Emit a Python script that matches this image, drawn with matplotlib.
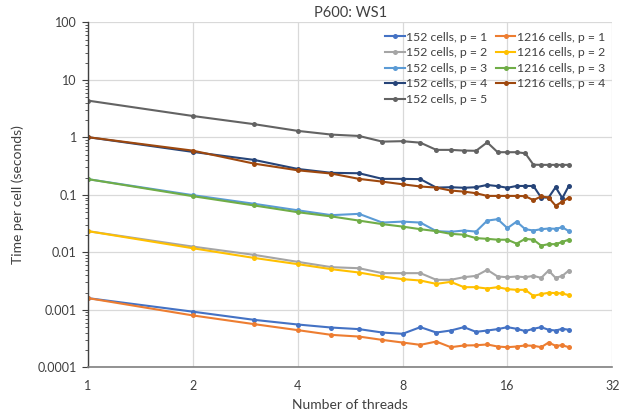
import matplotlib
matplotlib.use("Agg")
import matplotlib.pyplot as plt
from matplotlib.ticker import FixedLocator, FixedFormatter, LogLocator, NullFormatter, NullLocator

plt.rcParams['font.family'] = ['Lato', 'DejaVu Sans']

threads = list(range(1, 25))

c152_p1 = [0.0016, 0.00093, 0.00067, 0.000556, 0.000492, 0.000462, 0.000403, 0.000383,
           0.0005, 0.000403, 0.000437, 0.0005, 0.000414, 0.000437, 0.000462, 0.0005,
           0.000468, 0.000427, 0.000468, 0.0005, 0.00045, 0.000437, 0.000468, 0.00045]
c1216_p1 = [0.0016, 0.00080, 0.000564, 0.000444, 0.000367, 0.000343, 0.0003, 0.00027,
            0.000246, 0.000281, 0.000224, 0.00024, 0.000242, 0.00025, 0.00023, 0.000224,
            0.00023, 0.00024, 0.000237, 0.000224, 0.00027, 0.000237, 0.000242, 0.000224]
c152_p2 = [0.0234, 0.0126, 0.00905, 0.00684, 0.00553, 0.0053, 0.00435, 0.00435,
           0.00435, 0.00333, 0.00333, 0.0037, 0.0039, 0.00497, 0.0038, 0.0037,
           0.0038, 0.0037, 0.0039, 0.0036, 0.00483, 0.0036, 0.0039, 0.00483]
c1216_p2 = [0.0234, 0.0118, 0.0080, 0.00624, 0.0051, 0.00446, 0.0038, 0.00342,
            0.00324, 0.00283, 0.00307, 0.00248, 0.00248, 0.00235, 0.00248, 0.00229,
            0.00223, 0.00223, 0.00175, 0.00188, 0.00198, 0.00196, 0.00193, 0.0018]
c152_p3 = [0.188, 0.099, 0.070, 0.054, 0.0444, 0.0468, 0.033, 0.0343,
           0.033, 0.0234, 0.0228, 0.024, 0.023, 0.0357, 0.0378, 0.0264,
           0.0343, 0.0253, 0.024, 0.0253, 0.026, 0.0257, 0.0274, 0.0234]
c1216_p3 = [0.188, 0.095, 0.0655, 0.050, 0.0422, 0.0357, 0.031, 0.0281,
            0.0253, 0.0234, 0.021, 0.0203, 0.0177, 0.0172, 0.0166, 0.0166,
            0.0142, 0.0172, 0.0166, 0.0131, 0.0139, 0.0139, 0.0152, 0.0166]
c152_p4 = [1.01, 0.56, 0.406, 0.283, 0.242, 0.238, 0.19, 0.19,
           0.188, 0.134, 0.136, 0.133, 0.136, 0.149, 0.142, 0.133,
           0.143, 0.143, 0.143, 0.0898, 0.09, 0.136, 0.088, 0.143]
c1216_p4 = [1.01, 0.589, 0.35, 0.268, 0.235, 0.19, 0.17, 0.153,
            0.14, 0.134, 0.119, 0.114, 0.107, 0.096, 0.096, 0.096,
            0.096, 0.095, 0.081, 0.094, 0.09, 0.065, 0.076, 0.090]
c152_p5 = [4.37, 2.36, 1.70, 1.30, 1.12, 1.06, 0.845, 0.86,
           0.81, 0.607, 0.607, 0.59, 0.585, 0.82, 0.553, 0.553,
           0.553, 0.53, 0.335, 0.333, 0.333, 0.333, 0.333, 0.333]

series = [
    ("152 cells, p = 1", c152_p1, "#4472C4"),
    ("1216 cells, p = 1", c1216_p1, "#ED7D31"),
    ("152 cells, p = 2", c152_p2, "#A5A5A5"),
    ("1216 cells, p = 2", c1216_p2, "#FFC000"),
    ("152 cells, p = 3", c152_p3, "#5B9BD5"),
    ("1216 cells, p = 3", c1216_p3, "#70AD47"),
    ("152 cells, p = 4", c152_p4, "#264478"),
    ("1216 cells, p = 4", c1216_p4, "#9E480E"),
    ("152 cells, p = 5", c152_p5, "#636363"),
]
legend_order = ["152 cells, p = 1", "152 cells, p = 2", "152 cells, p = 3",
                "152 cells, p = 4", "152 cells, p = 5",
                "1216 cells, p = 1", "1216 cells, p = 2", "1216 cells, p = 3",
                "1216 cells, p = 4"]

x_ticks = [1, 2, 4, 8, 16, 32]
y_ticks = [0.0001, 0.001, 0.01, 0.1, 1, 10, 100]
y_labels = ["0.0001", "0.001", "0.01", "0.1", "1", "10", "100"]

fig = plt.figure(figsize=(6.28, 4.16), dpi=100)
ax = fig.add_axes([0.140, 0.117, 0.835, 0.829])

handles = {}
for name, vals, col in series:
    h, = ax.plot(threads, vals, color=col, lw=1.5, marker='o', ms=3.6,
                 markeredgewidth=0, label=name, solid_joinstyle='round')
    handles[name] = h

ax.set_xscale('log', base=2)
ax.set_yscale('log')
ax.set_xlim(1, 32)
ax.set_ylim(0.0001, 100)

ax.xaxis.set_major_locator(FixedLocator(x_ticks))
ax.xaxis.set_major_formatter(FixedFormatter([str(t) for t in x_ticks]))
ax.xaxis.set_minor_locator(NullLocator())
ax.yaxis.set_major_locator(FixedLocator(y_ticks))
ax.yaxis.set_major_formatter(FixedFormatter(y_labels))
ax.yaxis.set_minor_locator(LogLocator(base=10, subs=range(2, 10), numticks=20))
ax.yaxis.set_minor_formatter(NullFormatter())

ax.grid(True, which='major', color='#D9D9D9', lw=0.9)
ax.set_axisbelow(True)
for s in ('top', 'right'):
    ax.spines[s].set_visible(False)
ax.spines['left'].set_color('#404040')
ax.spines['bottom'].set_color('#7F7F7F')
ax.spines['left'].set_linewidth(1.0)
ax.spines['bottom'].set_linewidth(1.2)

ax.tick_params(axis='x', length=0, pad=9, labelsize=9, labelcolor='#404040')
ax.tick_params(axis='y', which='major', length=4, direction='out', pad=4,
               labelsize=9, labelcolor='#404040', color='#404040')
ax.tick_params(axis='y', which='minor', length=2.5, direction='out', color='#404040')

ax.set_xlabel("Number of threads", fontsize=10, color='#404040', labelpad=5)
ax.set_ylabel("Time per cell (seconds)", fontsize=10, color='#404040', labelpad=10)
ax.set_title("P600: WS1", fontsize=10.5, color='#404040', pad=4)

leg = ax.legend([handles[n] for n in legend_order], legend_order, ncol=2,
                loc='upper right', bbox_to_anchor=(1.0, 0.995), frameon=False,
                fontsize=8.8, handlelength=1.6, handletextpad=0.1,
                columnspacing=0.7, labelspacing=0.38, borderaxespad=0.2)
for t in leg.get_texts():
    t.set_color('#404040')

fig.savefig("out.png", dpi=100)
